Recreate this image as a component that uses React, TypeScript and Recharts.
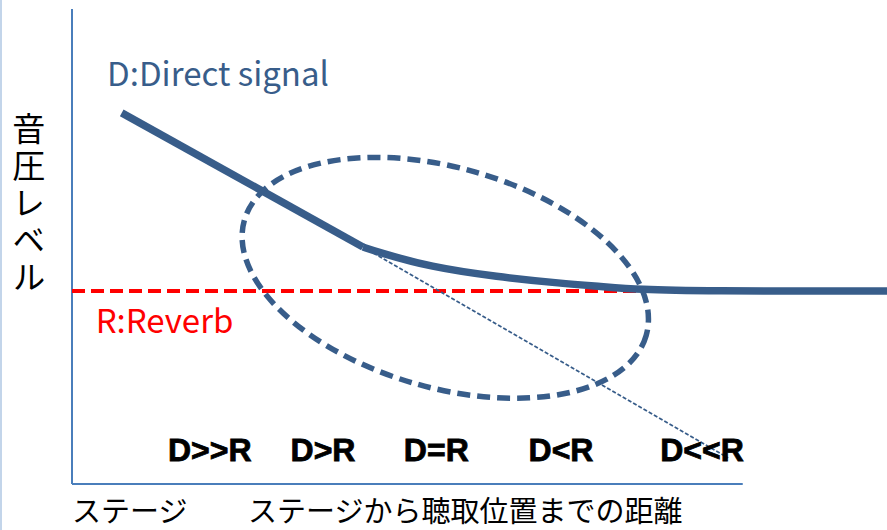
import React from "react";
import { LineChart, Line, XAxis, YAxis, ReferenceLine, ReferenceDot } from "recharts";

// Distance from stage (0..100) and sound pressure level (0..100)
const directX = [6.1, 35.7];
const directY = [78.3, 50.0];
const curveX = [35.7, 37.8, 43.9, 52.1, 60.2, 64.8, 69.7, 77.1, 100];
const curveY = [50.0, 48.8, 45.8, 43.7, 42.3, 41.7, 41.0, 40.7, 40.7];
const reverbX = [0, 70.3];
const reverbY = [40.7, 40.7];
const trendX = [35.7, 80.5];
const trendY = [50.0, 5.5];

const zoneLabels = ["D>>R", "D>R", "D=R", "D<R", "D<<R"];
const zoneX = [16.9, 30.8, 44.7, 60.0, 77.3];
const zoneY = 4.85;

const ellipseCenter = { x: 45.8, y: 43.5 };
const xAxisEnd = 82.3;

const yTitle = "音圧レベル";
const xTitleLeft = "ステージ";
const xTitleMain = "ステージから聴取位置までの距離";
const directLabel = "D:Direct signal";
const reverbLabel = "R:Reverb";

const toPts = (xs: number[], ys: number[]) => xs.map((x, i) => ({ x, y: ys[i] }));

const BLUE = "#385D8A";
const AXIS = "#4A7EBB";
const JP = "'Noto Sans CJK JP', 'Noto Sans', sans-serif";

export default function App() {
  return (
    <div style={{ position: "absolute", left: 0, top: 0, width: 887, height: 530, background: "#fff" }}>
      <div style={{ position: "absolute", left: 0, top: 0, width: 2, height: 530, background: "#c3d5ea" }} />
      <LineChart width={887} height={530} margin={{ top: 10, right: 0, bottom: 46, left: 72 }}>
        <XAxis type="number" dataKey="x" domain={[0, 100]} hide allowDataOverflow />
        <YAxis type="number" dataKey="y" domain={[0, 100]} hide allowDataOverflow />
        <ReferenceLine segment={[{ x: 0, y: 0 }, { x: 0, y: 100.2 }]} stroke={AXIS} strokeWidth={2} ifOverflow="visible" />
        <ReferenceLine segment={[{ x: 0, y: 0 }, { x: xAxisEnd, y: 0 }]} stroke={AXIS} strokeWidth={2} ifOverflow="visible" />
        <Line data={toPts(reverbX, reverbY)} dataKey="y" type="linear" stroke="#ff0000" strokeWidth={4} strokeDasharray="13 6" dot={false} isAnimationActive={false} />
        <Line data={toPts(trendX, trendY)} dataKey="y" type="linear" stroke={BLUE} strokeWidth={1.8} strokeDasharray="4 2" dot={false} isAnimationActive={false} />
        <Line data={toPts(directX, directY)} dataKey="y" type="linear" stroke={BLUE} strokeWidth={7.5} dot={false} isAnimationActive={false} />
        <Line data={toPts(curveX, curveY)} dataKey="y" type="basis" stroke={BLUE} strokeWidth={7.5} dot={false} isAnimationActive={false} />
        <ReferenceDot
          x={ellipseCenter.x}
          y={ellipseCenter.y}
          ifOverflow="visible"
          shape={(p: any) => (
            <ellipse cx={p.cx} cy={p.cy} rx={209} ry={110} transform={`rotate(16 ${p.cx} ${p.cy})`} fill="none" stroke={BLUE} strokeWidth={5.5} strokeDasharray="13 7" />
          )}
        />
        <ReferenceDot
          x={4.3}
          y={84.0}
          ifOverflow="visible"
          shape={(p: any) => (
            <text x={p.cx} y={p.cy} fill={BLUE} fontSize={33} fontFamily={JP}>{directLabel}</text>
          )}
        />
        <ReferenceDot
          x={2.9}
          y={31.9}
          ifOverflow="visible"
          shape={(p: any) => (
            <text x={p.cx} y={p.cy} fill="#ff0000" fontSize={33} fontFamily={JP}>{reverbLabel}</text>
          )}
        />
        {zoneLabels.map((lab, i) => (
          <ReferenceDot
            key={lab}
            x={zoneX[i]}
            y={zoneY}
            ifOverflow="visible"
            shape={(p: any) => (
              <text x={p.cx} y={p.cy} fill="#000" stroke="#000" strokeWidth={0.8} fontSize={32} fontWeight="bold" textAnchor="middle" fontFamily="'Liberation Sans', Arial, sans-serif">{lab}</text>
            )}
          />
        ))}
        <ReferenceDot
          x={0}
          y={-8.0}
          ifOverflow="visible"
          shape={(p: any) => (
            <text x={p.cx} y={p.cy} fill="#000" fontSize={29} fontFamily={JP}>{xTitleLeft}</text>
          )}
        />
        <ReferenceDot
          x={21.6}
          y={-8.0}
          ifOverflow="visible"
          shape={(p: any) => (
            <text x={p.cx} y={p.cy} fill="#000" fontSize={29} fontFamily={JP}>{xTitleMain}</text>
          )}
        />
        <ReferenceDot
          x={-5.3}
          y={78.5}
          ifOverflow="visible"
          shape={(p: any) => (
            <text x={p.cx} y={p.cy} fill="#000" fontSize={33} fontFamily={JP} style={{ writingMode: "vertical-rl", letterSpacing: 4 }}>{yTitle}</text>
          )}
        />
      </LineChart>
    </div>
  );
}
